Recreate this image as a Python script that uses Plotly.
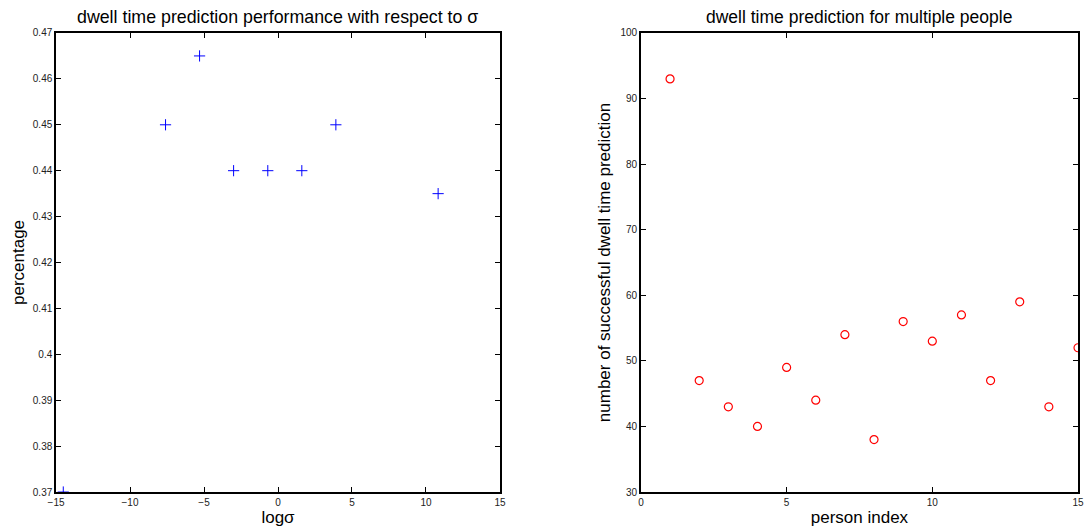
import plotly.graph_objects as go

# Left panel data
log_sigma = [-14.51, -7.60, -5.30, -3.00, -0.69, 1.61, 3.91, 10.82]
percentage = [0.37, 0.45, 0.465, 0.44, 0.44, 0.44, 0.45, 0.435]

# Right panel data
person_index = [1, 2, 3, 4, 5, 6, 7, 8, 9, 10, 11, 12, 13, 14, 15]
successes = [93, 47, 43, 40, 49, 44, 54, 38, 56, 53, 57, 47, 59, 43, 52]

left_xticks = [-15, -10, -5, 0, 5, 10, 15]
left_yticks = [0.37, 0.38, 0.39, 0.40, 0.41, 0.42, 0.43, 0.44, 0.45, 0.46, 0.47]
left_yticklabels = ["0.37", "0.38", "0.39", "0.4", "0.41", "0.42", "0.43", "0.44", "0.45", "0.46", "0.47"]
right_xticks = [0, 5, 10, 15]
right_yticks = [30, 40, 50, 60, 70, 80, 90, 100]

FONT = "Liberation Sans, Arial, sans-serif"
TICKFONT = dict(family=FONT, size=10, color="#222")
LABELFONT = dict(family=FONT, size=17, color="#000")

fig = go.Figure()
fig.add_trace(go.Scatter(x=log_sigma, y=percentage, mode="markers",
                         marker=dict(symbol="cross-thin-open", size=8, color="blue",
                                     line=dict(color="blue", width=1)),
                         xaxis="x", yaxis="y", showlegend=False))
fig.add_trace(go.Scatter(x=person_index, y=successes, mode="markers",
                         marker=dict(symbol="circle-open", size=8, color="red",
                                     line=dict(color="red", width=1.2)),
                         xaxis="x2", yaxis="y2", showlegend=False))

ax_common = dict(showline=True, linecolor="black", linewidth=1.5, mirror="ticks",
                 ticks="inside", ticklen=5, tickcolor="black", tickwidth=1,
                 showgrid=False, zeroline=False, tickfont=TICKFONT, automargin=False)

fig.update_layout(
    width=1090, height=531,
    margin=dict(l=0, r=0, t=0, b=0),
    paper_bgcolor="white", plot_bgcolor="white",
    xaxis=dict(domain=[0.0514, 0.4587], range=[-15, 15], tickvals=left_xticks,
               title=dict(text="logσ", font=LABELFONT, standoff=4), anchor="y", **ax_common),
    yaxis=dict(domain=[0.0734, 0.9379], range=[0.37, 0.47], tickvals=left_yticks,
               ticktext=left_yticklabels,
               title=dict(text="percentage", font=LABELFONT, standoff=4), anchor="x", **ax_common),
    xaxis2=dict(domain=[0.588, 0.989], range=[0, 15], tickvals=right_xticks,
                title=dict(text="person index", font=LABELFONT, standoff=4), anchor="y2", **ax_common),
    yaxis2=dict(domain=[0.0734, 0.9379], range=[30, 100], tickvals=right_yticks,
                title=dict(text="number of successful dwell time prediction", font=LABELFONT, standoff=6),
                anchor="x2", **ax_common),
    annotations=[
        dict(text="dwell time prediction performance with respect to σ", x=0.255, y=1 - 17/531,
             xref="paper", yref="paper", showarrow=False, xanchor="center", yanchor="middle",
             font=dict(family=FONT, size=17.8, color="#000")),
        dict(text="dwell time prediction for multiple people", x=0.7885, y=1 - 17/531,
             xref="paper", yref="paper", showarrow=False, xanchor="center", yanchor="middle",
             font=dict(family=FONT, size=17.5, color="#000")),
    ],
)

fig.write_html("out.html")
